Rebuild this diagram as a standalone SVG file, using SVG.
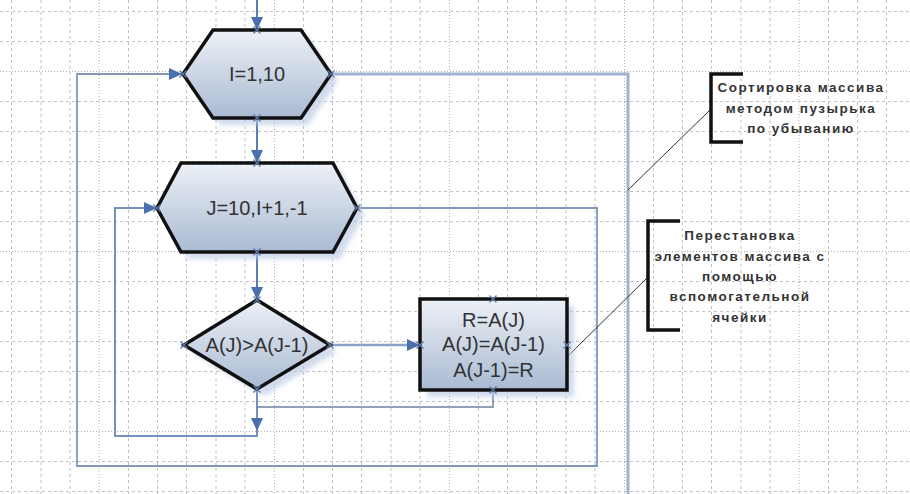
<svg xmlns="http://www.w3.org/2000/svg" width="910" height="494" viewBox="0 0 910 494">
<defs>
<linearGradient id="fillG" x1="0" y1="0" x2="0" y2="1">
<stop offset="0" stop-color="#edf1f7"/>
<stop offset="1" stop-color="#a9bad2"/>
</linearGradient>
<filter id="blur" x="-20%" y="-20%" width="140%" height="140%"><feGaussianBlur stdDeviation="2.5"/></filter>
<marker id="arr" markerUnits="userSpaceOnUse" markerWidth="14" markerHeight="12" refX="13" refY="6" orient="auto">
<path d="M0,0 L13,6 L0,12 z" fill="#4a70ae"/>
</marker>
<path id="xm" d="M-3.5,-3.5 L3.5,3.5 M-3.5,3.5 L3.5,-3.5"/>
</defs>
<style>
.shape{fill:url(#fillG);stroke:#111;stroke-width:3.5;stroke-linejoin:miter}
.shadow{fill:#b7c8e3;opacity:.65;filter:url(#blur)}
.lbl{font-family:"Liberation Sans",Arial,sans-serif;font-size:20px;fill:#333;text-anchor:middle}
.note{font-family:"Liberation Sans",Arial,sans-serif;font-size:13.5px;font-weight:bold;fill:#333;text-anchor:middle;letter-spacing:1.5px}
.gv line,.gh line{stroke:#c2c2c2;stroke-width:1;stroke-dasharray:3 3}
.gm line{stroke:#b0b0b0;stroke-width:1;stroke-dasharray:1 2}
.x use{stroke:#5f78a6;stroke-width:1.3;fill:none}
.br{fill:none;stroke:#111;stroke-width:3.5}
.conn path{fill:none}
.main{stroke:#5b7cb0;stroke-width:2}
</style>
<rect width="910" height="494" fill="#ffffff"/>
<g id="grid">
<g class="gv">
<line x1="11.5" y1="0" x2="11.5" y2="494"/><line x1="41" y1="0" x2="41" y2="494"/><line x1="70" y1="0" x2="70" y2="494"/>
<line x1="128.5" y1="0" x2="128.5" y2="494"/><line x1="157.5" y1="0" x2="157.5" y2="494"/><line x1="186.5" y1="0" x2="186.5" y2="494"/>
<line x1="216" y1="0" x2="216" y2="494"/><line x1="245" y1="0" x2="245" y2="494"/><line x1="303.5" y1="0" x2="303.5" y2="494"/>
<line x1="332.5" y1="0" x2="332.5" y2="494"/><line x1="361.5" y1="0" x2="361.5" y2="494"/><line x1="391" y1="0" x2="391" y2="494"/>
<line x1="420" y1="0" x2="420" y2="494"/><line x1="478.5" y1="0" x2="478.5" y2="494"/><line x1="507.5" y1="0" x2="507.5" y2="494"/>
<line x1="536.5" y1="0" x2="536.5" y2="494"/><line x1="566" y1="0" x2="566" y2="494"/><line x1="595" y1="0" x2="595" y2="494"/>
<line x1="653.5" y1="0" x2="653.5" y2="494"/><line x1="682.5" y1="0" x2="682.5" y2="494"/><line x1="711.5" y1="0" x2="711.5" y2="494"/>
<line x1="741" y1="0" x2="741" y2="494"/><line x1="770" y1="0" x2="770" y2="494"/><line x1="828.5" y1="0" x2="828.5" y2="494"/>
<line x1="857.5" y1="0" x2="857.5" y2="494"/><line x1="886.5" y1="0" x2="886.5" y2="494"/>
</g>
<g class="gh">
<line x1="0" y1="11.5" x2="910" y2="11.5"/><line x1="0" y1="41.5" x2="910" y2="41.5"/><line x1="0" y1="101.5" x2="910" y2="101.5"/>
<line x1="0" y1="131.5" x2="910" y2="131.5"/><line x1="0" y1="161.5" x2="910" y2="161.5"/><line x1="0" y1="191.5" x2="910" y2="191.5"/>
<line x1="0" y1="221.5" x2="910" y2="221.5"/><line x1="0" y1="281.5" x2="910" y2="281.5"/><line x1="0" y1="311.5" x2="910" y2="311.5"/>
<line x1="0" y1="341.5" x2="910" y2="341.5"/><line x1="0" y1="371.5" x2="910" y2="371.5"/><line x1="0" y1="401.5" x2="910" y2="401.5"/>
<line x1="0" y1="461.5" x2="910" y2="461.5"/><line x1="0" y1="491.5" x2="910" y2="491.5"/>
</g>
<g class="gm">
<line x1="99" y1="0" x2="99" y2="494"/><line x1="274.5" y1="0" x2="274.5" y2="494"/><line x1="449.5" y1="0" x2="449.5" y2="494"/>
<line x1="624.5" y1="0" x2="624.5" y2="494"/><line x1="799" y1="0" x2="799" y2="494"/>
<line x1="0" y1="71.5" x2="910" y2="71.5"/><line x1="0" y1="251.5" x2="910" y2="251.5"/><line x1="0" y1="431.5" x2="910" y2="431.5"/>
</g>
</g>
<g id="connectors" class="conn">
<path d="M330,74 H628 V494" stroke="#9fb3d0" stroke-width="3"/>
<path d="M357,208 H597 V466 H77 V74 H182" stroke="#8298ba" stroke-width="1.8" marker-end="url(#arr)"/>
<path d="M257,388 V436 H115 V208 H157" stroke="#7890bd" stroke-width="2" marker-end="url(#arr)"/>
<path d="M493,390 V407 H257" stroke="#6d819f" stroke-width="1.5"/>
<polygon points="251,418 263,418 257,431" fill="#4a70ae"/>
<path class="main" d="M257,0 V30" marker-end="url(#arr)"/>
<path class="main" d="M257,118 V163" marker-end="url(#arr)"/>
<path class="main" d="M257,252 V300" marker-end="url(#arr)"/>
<path d="M330,345 H420" stroke="#89a2c9" stroke-width="2.5" marker-end="url(#arr)"/>
<path d="M628,190 L710,110" stroke="#333" stroke-width="1"/>
<path d="M568,356 L648,277" stroke="#333" stroke-width="1"/>
</g>
<g id="hex1">
<polygon class="shadow" transform="translate(7,7)" points="213,30 301,30 331,74 301,118 213,118 183,74"/>
<polygon class="shape" points="213,30 301,30 331,74 301,118 213,118 183,74"/>
<text class="lbl" x="257" y="81">I=1,10</text>
<g class="x"><use href="#xm" x="257" y="30"/><use href="#xm" x="183" y="74"/><use href="#xm" x="331" y="74"/><use href="#xm" x="257" y="118"/></g>
</g>
<g id="hex2">
<polygon class="shadow" transform="translate(7,7)" points="181,163 333,163 357,208 333,252 181,252 157,208"/>
<polygon class="shape" points="181,163 333,163 357,208 333,252 181,252 157,208"/>
<text class="lbl" x="257" y="215">J=10,I+1,-1</text>
<g class="x"><use href="#xm" x="257" y="163"/><use href="#xm" x="157" y="208"/><use href="#xm" x="357" y="208"/><use href="#xm" x="257" y="252"/></g>
</g>
<g id="cond">
<polygon class="shadow" transform="translate(7,7)" points="257,300 330,345 257,389 184,345"/>
<polygon class="shape" points="257,300 330,345 257,389 184,345"/>
<text class="lbl" x="257" y="352">A(J)&gt;A(J-1)</text>
<g class="x"><use href="#xm" x="257" y="300"/><use href="#xm" x="184" y="345"/><use href="#xm" x="330" y="345"/><use href="#xm" x="257" y="389"/></g>
</g>
<g id="swap">
<rect class="shadow" x="427" y="306" width="147" height="91"/>
<rect class="shape" x="420" y="299" width="147" height="91"/>
<text class="lbl" x="493.5" y="326.5">R=A(J)</text>
<text class="lbl" x="493.5" y="351">A(J)=A(J-1)</text>
<text class="lbl" x="493.5" y="376.5">A(J-1)=R</text>
<g class="x"><use href="#xm" x="493" y="299"/><use href="#xm" x="420" y="345"/><use href="#xm" x="567" y="345"/><use href="#xm" x="493" y="390"/></g>
</g>
<g id="note1">
<path class="br" d="M743,74 H711 V142 H743"/>
<text class="note" x="801" y="92">Сортировка массива</text>
<text class="note" x="801" y="113">методом пузырька</text>
<text class="note" x="801" y="133">по убыванию</text>
</g>
<g id="note2">
<path class="br" d="M680,221 H648 V330 H680"/>
<text class="note" x="740" y="240">Перестановка</text>
<text class="note" x="740" y="260.5">элементов массива с</text>
<text class="note" x="740" y="281">помощью</text>
<text class="note" x="740" y="301">вспомогательной</text>
<text class="note" x="740" y="321.5">ячейки</text>
</g>
</svg>
